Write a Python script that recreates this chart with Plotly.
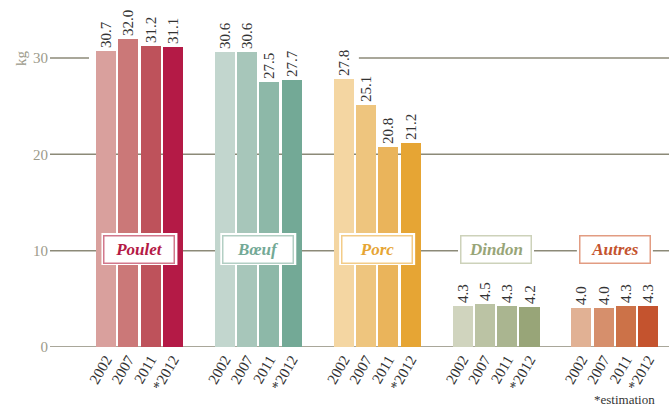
import plotly.graph_objects as go

groups = ["Poulet", "Bœuf", "Porc", "Dindon", "Autres"]
years = ["2002", "2007", "2011", "*2012"]
values = {
    "Poulet": [30.7, 32.0, 31.2, 31.1],
    "Bœuf": [30.6, 30.6, 27.5, 27.7],
    "Porc": [27.8, 25.1, 20.8, 21.2],
    "Dindon": [4.3, 4.5, 4.3, 4.2],
    "Autres": [4.0, 4.0, 4.3, 4.3],
}
bar_colors = {
    "Poulet": ["#D9A09D", "#CB7878", "#BE525B", "#B41A46"],
    "Bœuf": ["#C2D6CE", "#A7C6BA", "#8DB8A8", "#73A996"],
    "Porc": ["#F4D6A2", "#EEC57E", "#EAB45B", "#E6A534"],
    "Dindon": ["#D0D4BE", "#BBC3A4", "#AAB590", "#98A578"],
    "Autres": ["#E1B194", "#D68F6C", "#CC7248", "#C4532E"],
}
label_colors = {
    "Poulet": "#B41A46", "Bœuf": "#73A996", "Porc": "#E6A534",
    "Dindon": "#98A578", "Autres": "#C4532E",
}
border_colors = {
    "Poulet": "#D2788C", "Bœuf": "#B3CFC4", "Porc": "#F3CC88",
    "Dindon": "#CDD2BA", "Autres": "#E29C82",
}
y_ticks = [0, 10, 20, 30]

GROUP_STEP = 5.33
GRID = "#8C8A78"
SERIF = "Liberation Serif"

fig = go.Figure()
tickvals, ticktext = [], []
for g, name in enumerate(groups):
    xs = [g * GROUP_STEP + i for i in range(len(years))]
    tickvals += xs
    ticktext += years
    fig.add_trace(go.Bar(
        x=xs, y=values[name], width=0.9,
        marker=dict(color=bar_colors[name], line=dict(width=0)),
        text=[f"{v:.1f}" for v in values[name]],
        textposition="outside", textangle=-90, constraintext="none",
        textfont=dict(family=SERIF, size=15, color="#333333"),
        cliponaxis=False, showlegend=False, hoverinfo="skip",
    ))
    cx = sum(xs) / len(xs)
    fig.add_shape(type="rect", xref="x", yref="y", layer="above",
                  xsizemode="pixel", ysizemode="pixel", xanchor=cx, yanchor=10.17,
                  x0=-38, x1=38, y0=-16, y1=16,
                  fillcolor="white", line=dict(width=0))
    fig.add_annotation(x=cx, y=10.17, xref="x", yref="y", text=name,
                       showarrow=False, width=69, height=26,
                       bgcolor="white", bordercolor=border_colors[name],
                       borderwidth=1.5, borderpad=0,
                       font=dict(family=SERIF, size=17, color=label_colors[name],
                                 style="italic", weight="bold"))

# grid lines
for v in y_ticks:
    if v == 30:
        segs = [(0.0, 0.063), (0.499, 1.0)]
    else:
        segs = [(0.0, 1.0)]
    for a, b in segs:
        fig.add_shape(type="line", xref="paper", yref="y", x0=a, x1=b, y0=v, y1=v,
                      line=dict(color=GRID, width=1.5), layer="below")

fig.add_annotation(x=-0.047, y=30, xref="paper", yref="y", text="kg", showarrow=False,
                   xanchor="center", yanchor="middle", textangle=-90,
                   font=dict(family=SERIF, size=15, color="#9C9A8A"))
fig.add_annotation(x=1.0, y=0, xref="paper", yref="paper", text="*estimation",
                   showarrow=False, xanchor="right", yanchor="top", yshift=-43, xshift=-12,
                   font=dict(family=SERIF, size=13, color="#333333"))

fig.update_layout(
    width=669, height=406, autosize=False,
    margin=dict(l=50, r=0, t=0, b=59, pad=0),
    paper_bgcolor="white", plot_bgcolor="white",
    bargap=0,
    xaxis=dict(range=[-2.511, 25.247], tickvals=tickvals, ticktext=ticktext,
               tickangle=-60, showgrid=False, zeroline=False, showline=False,
               automargin=False,
               ticks="", tickfont=dict(family=SERIF, size=15, color="#333333")),
    yaxis=dict(range=[0, 36.02], tickvals=y_ticks, showgrid=False, zeroline=False,
               showline=False, ticks="", ticklabelstandoff=1, automargin=False,
               tickfont=dict(family=SERIF, size=15, color="#9C9A8A")),
)

fig.write_html("out.html", config={"displayModeBar": False},
               post_script="document.body.style.margin='0';document.body.style.overflow='hidden';")
